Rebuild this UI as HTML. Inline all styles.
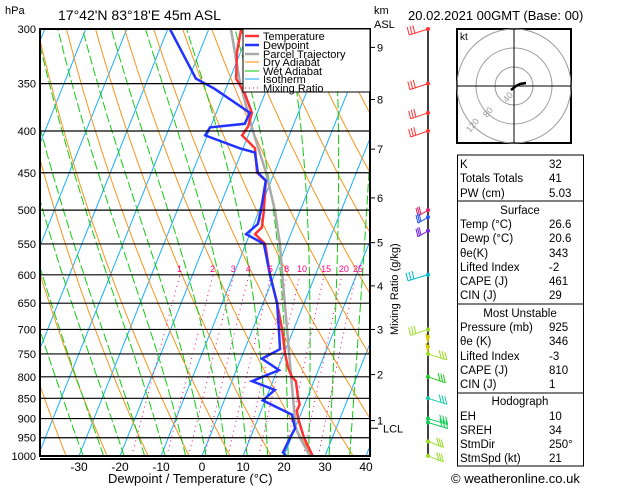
<!DOCTYPE html>
<html><head><meta charset="utf-8"><style>
body{margin:0;background:#fff;}
svg text{font-family:"Liberation Sans",sans-serif;}
</style></head><body>
<svg id="c" width="629" height="486" viewBox="0 0 629 486" xmlns="http://www.w3.org/2000/svg">
<defs><clipPath id="pc"><rect x="40" y="29" width="330" height="427"/></clipPath></defs>
<g id="bg" clip-path="url(#pc)"></g>
<g id="series" clip-path="url(#pc)"></g>
<g id="axes"></g>
<text x="5" y="14" font-size="11">hPa</text>
<text x="58" y="20" font-size="14">17°42'N  83°18'E  45m  ASL</text>
<text x="374" y="14" font-size="11">km</text>
<text x="374" y="28" font-size="11">ASL</text>
<text x="408" y="20" font-size="13">20.02.2021  00GMT  (Base: 00)</text>
<text x="108" y="483" font-size="13">Dewpoint / Temperature (°C)</text>
<text x="0" y="0" font-size="11" transform="translate(398,335) rotate(-90)">Mixing Ratio (g/kg)</text>
<g>
<rect x="243" y="29" width="127" height="63" fill="#fff" stroke="#000" stroke-width="1"/>
<line x1="245" y1="36" x2="259" y2="36" stroke="#f33" stroke-width="2.5"/><text x="263" y="40" font-size="11">Temperature</text>
<line x1="245" y1="45" x2="259" y2="45" stroke="#23f" stroke-width="2.5"/><text x="263" y="49" font-size="11">Dewpoint</text>
<line x1="245" y1="54" x2="259" y2="54" stroke="#aaa" stroke-width="2.5"/><text x="263" y="58" font-size="11">Parcel Trajectory</text>
<line x1="245" y1="62" x2="259" y2="62" stroke="#f80" stroke-width="1"/><text x="263" y="66" font-size="11">Dry Adiabat</text>
<line x1="245" y1="71" x2="259" y2="71" stroke="#0c0" stroke-width="1"/><text x="263" y="75" font-size="11">Wet Adiabat</text>
<line x1="245" y1="79" x2="259" y2="79" stroke="#0af" stroke-width="1"/><text x="263" y="83" font-size="11">Isotherm</text>
<line x1="245" y1="88" x2="259" y2="88" stroke="#e08" stroke-width="1" stroke-dasharray="1,3"/><text x="263" y="92" font-size="11">Mixing Ratio</text>
</g>
<g id="hodo">
<rect x="457" y="29" width="114" height="114" fill="#fff" stroke="#000" stroke-width="2"/>
<circle cx="514" cy="86" r="19" fill="none" stroke="#999"/>
<circle cx="514" cy="86" r="38" fill="none" stroke="#999"/>
<circle cx="514" cy="86" r="57" fill="none" stroke="#999"/>
<line x1="457" y1="86" x2="571" y2="86" stroke="#000"/>
<line x1="514" y1="29" x2="514" y2="143" stroke="#000"/>
<text x="460" y="40" font-size="10">kt</text>
<text x="0" y="0" font-size="9" fill="#999" transform="translate(507,103) rotate(-50)">40</text>
<text x="0" y="0" font-size="9" fill="#999" transform="translate(487,118) rotate(-50)">80</text>
<text x="0" y="0" font-size="9" fill="#999" transform="translate(470,133) rotate(-50)">120</text>
<polyline points="511,90 516,86 520,84 526,83" fill="none" stroke="#000" stroke-width="2.5"/>
</g>
<g id="tbl"></g>
<text x="451" y="483" font-size="13">© weatheronline.co.uk</text>
<g id="winds"></g>
</svg>
<script>
const NS='http://www.w3.org/2000/svg';
// data
const tempP=[300,320,345,360,380,395,405,420,450,460,500,525,535,550,600,650,700,750,780,800,810,850,865,880,900,950,1000];
const tempT=[-32.1,-30.9,-28.5,-24.9,-21.3,-20.9,-21.5,-17.1,-14.2,-11.3,-8.9,-7.7,-8.7,-5.3,-1.1,3.4,7.2,10.3,12.4,14.2,15.6,17.8,18.8,18.7,19.8,23.1,27.0];
const dewP=[300,345,355,380,392,396,405,420,425,450,460,500,520,535,550,600,650,700,740,760,785,810,830,855,890,925,950,990,1000];
const dewT=[-49.5,-38.3,-32.8,-21.8,-22,-30.1,-30.5,-20.8,-16.7,-14,-11.3,-9.6,-9,-10.9,-5.6,-1.1,3.4,6.4,8.6,5.1,10.4,4.9,11.3,9.4,17.9,20,19.7,19.4,20.5];
const parcelP=[300,350,400,450,500,550,600,700,800,900,925,950,1000];
const parcelT=[-34.6,-27,-19.3,-12,-6.2,-1.7,1.9,8.4,14,19,20.2,22.1,26.3];
const pressureTicks=[300,350,400,450,500,550,600,650,700,750,800,850,900,950,1000];
const tempTicks=[-30,-20,-10,0,10,20,30,40];
const kmTicks=[9,8,7,6,5,4,3,2,1];
const kmPressures=[316,366,421,483,548,619,700,795,905];
const mixRatios=[1,2,3,4,6,8,10,15,20,25];
const mixLabels=['1','2','3','4','6','8','10','15','20','25'];
const windP=[300,350,380,400,500,510,530,600,700,715,735,750,800,850,900,910,960,1000];

const Y=p=>29+354.6*Math.log(p/300);
const X=(T,p)=>202+T*4.1+0.4*(456-Y(p));
function el(tag,attrs,parent){const e=document.createElementNS(NS,tag);for(const k in attrs)e.setAttribute(k,attrs[k]);parent.appendChild(e);return e;}
const bg=document.getElementById('bg'),ax=document.getElementById('axes'),sr=document.getElementById('series');
function pathOf(ps,fn){return ps.map((p,i)=>(i?'L':'M')+X(fn(p,i),p).toFixed(1)+','+Y(p).toFixed(1)).join('');}
const plev=[];for(let p=1000;p>=290;p-=5)plev.push(p);
// isotherms
for(let T=-120;T<=40;T+=10){const l=el('line',{x1:X(T,1000),y1:Y(1000),x2:X(T,290),y2:Y(290),stroke:'#1ab0ff','stroke-width':1},bg);

}
// dry adiabats
for(let th=230;th<=480;th+=10){const d=pathOf(plev,p=>th*Math.pow(p/1000,0.286)-273.15);const e=el('path',{d,fill:'none',stroke:'#f7941d','stroke-width':1},bg);

}
// moist adiabats
function es(T){return 6.112*Math.exp(17.67*T/(T+243.5));}
for(let T0=-29;T0<=41;T0+=5){let T=T0;const pts=[];for(let p=1000;p>=290;p-=5){pts.push([p,T]);const Tk=T+273.15;const rs=0.622*es(T)/(p-es(T));const num=287*Tk+2.5e6*rs;const den=1004+2.5e6*2.5e6*rs*0.622/(287*Tk*Tk);T-=(num/den)/p*5;}
const d=pts.map((q,i)=>(i?'L':'M')+X(q[1],q[0]).toFixed(1)+','+Y(q[0]).toFixed(1)).join('');
const e=el('path',{d,fill:'none',stroke:'#11cc11','stroke-width':1,'stroke-dasharray':'9,3'},bg);

}
// mixing ratios
mixRatios.forEach((w,i)=>{const f=p=>{const e=w*p/(622+w);const a=Math.log(e/6.112);return 243.5*a/(17.67-a);};const ps=[];for(let p=1000;p>=600;p-=10)ps.push(p);
const e=el('path',{d:pathOf(ps,f),fill:'none',stroke:'#ff0080','stroke-width':1,'stroke-dasharray':'1,4'},bg);


const t=el('text',{x:X(f(600),600)-3,y:272,'font-size':9,fill:'#ff0080'},ax);t.textContent=mixLabels[i];

});
// isobars
pressureTicks.forEach(p=>{const l=el('line',{x1:40,x2:370,y1:Y(p),y2:Y(p),stroke:'#000','stroke-width':1.2},ax);


const t=el('text',{x:36,y:Y(p)+4,'font-size':11,'text-anchor':'end'},ax);t.textContent=p;

});
const fr=el('rect',{x:40,y:29,width:330,height:427,fill:'none',stroke:'#000','stroke-width':2},ax);


el('line',{x1:40,x2:370,y1:459,y2:459,stroke:'#000','stroke-width':2},ax);
tempTicks.forEach(T=>{const t=el('text',{x:X(T,1000),y:471,'font-size':12,'text-anchor':'middle'},ax);t.textContent=T;

});
kmTicks.forEach((k,i)=>{const y=Y(kmPressures[i]);el('line',{x1:370,x2:375,y1:y,y2:y,stroke:'#000'},ax);const t=el('text',{x:377,y:y+4,'font-size':11},ax);t.textContent=k;

});
el('line',{x1:370,x2:378,y1:Y(925),y2:Y(925),stroke:'#000'},ax);
const lcl=el('text',{x:383,y:Y(925)+4,'font-size':11},ax);lcl.textContent='LCL';


// series
const ptl=el('path',{d:pathOf(parcelP,(p,i)=>parcelT[i]),fill:'none',stroke:'#aaa','stroke-width':2.5},sr);


const tl=el('path',{d:pathOf(tempP,(p,i)=>tempT[i]),fill:'none',stroke:'#f33','stroke-width':2.5},sr);


const dl=el('path',{d:pathOf(dewP,(p,i)=>dewT[i]),fill:'none',stroke:'#23f','stroke-width':2.5},sr);


// winds
const w=document.getElementById('winds');
el('line',{x1:428,x2:428,y1:29,y2:456,stroke:'#000','stroke-width':1.5},w);
const wcol=['#f33','#f33','#f33','#f33','#e0206a','#2255ff','#7722dd','#00bbcc','#99dd22','#ddcc00','#ddcc00','#99dd22','#22cc22','#11ccaa','#11cc55','#11cc55','#99dd22','#99dd22'];
const wdir=[-160,-155,-150,-150,-120,-120,-120,-180,-150,-90,-90,20,30,20,10,10,40,-40];
windP.forEach((p,i)=>{const y=Y(p);const g=el('g',{},w);
const a=wdir[i]*Math.PI/180;const L=20;const x2=428+L*Math.cos(a),y2=y+L*Math.sin(a)*-1+ (Math.sin(a)>0?0:0);
el('line',{x1:428,y1:y,x2:x2,y2:y+6,stroke:wcol[i],'stroke-width':1},g);
for(let k=0;k<3;k++){const fx=x2+(428-x2)*k*0.15,fy=y+6-6*k*0.15;el('line',{x1:fx,y1:fy,x2:fx-2,y2:fy-8,stroke:wcol[i],'stroke-width':1},g);}
el('circle',{cx:428,cy:y,r:2,fill:wcol[i]},g);});
// table
const tb=document.getElementById('tbl');
const rows=[[164,'K','32'],[178,'Totals Totals','41'],[193,'PW (cm)','5.03'],[210,'Surface',null],[224,'Temp (°C)','26.6'],[238,'Dewp (°C)','20.6'],[253,'θe(K)','343'],[267,'Lifted Index','-2'],[281,'CAPE (J)','461'],[295,'CIN (J)','29'],[313,'Most Unstable',null],[327,'Pressure (mb)','925'],[341,'θe (K)','346'],[356,'Lifted Index','-3'],[370,'CAPE (J)','810'],[384,'CIN (J)','1'],[401,'Hodograph',null],[416,'EH','10'],[430,'SREH','34'],[444,'StmDir','250°'],[458,'StmSpd (kt)','21']];
[[155,201],[201,304],[304,393],[393,466]].forEach(b=>el('rect',{x:457.5,y:b[0],width:126,height:b[1]-b[0],fill:'none',stroke:'#000','stroke-width':1},tb));
rows.forEach(r=>{if(r[2]===null){const t=el('text',{x:520,y:r[0]+4,'font-size':11.5,'text-anchor':'middle'},tb);t.textContent=r[1];}else{const t=el('text',{x:460,y:r[0]+4,'font-size':11.5},tb);t.textContent=r[1];const v=el('text',{x:549,y:r[0]+4,'font-size':11.5},tb);v.textContent=r[2];}});
</script>
</body></html>
